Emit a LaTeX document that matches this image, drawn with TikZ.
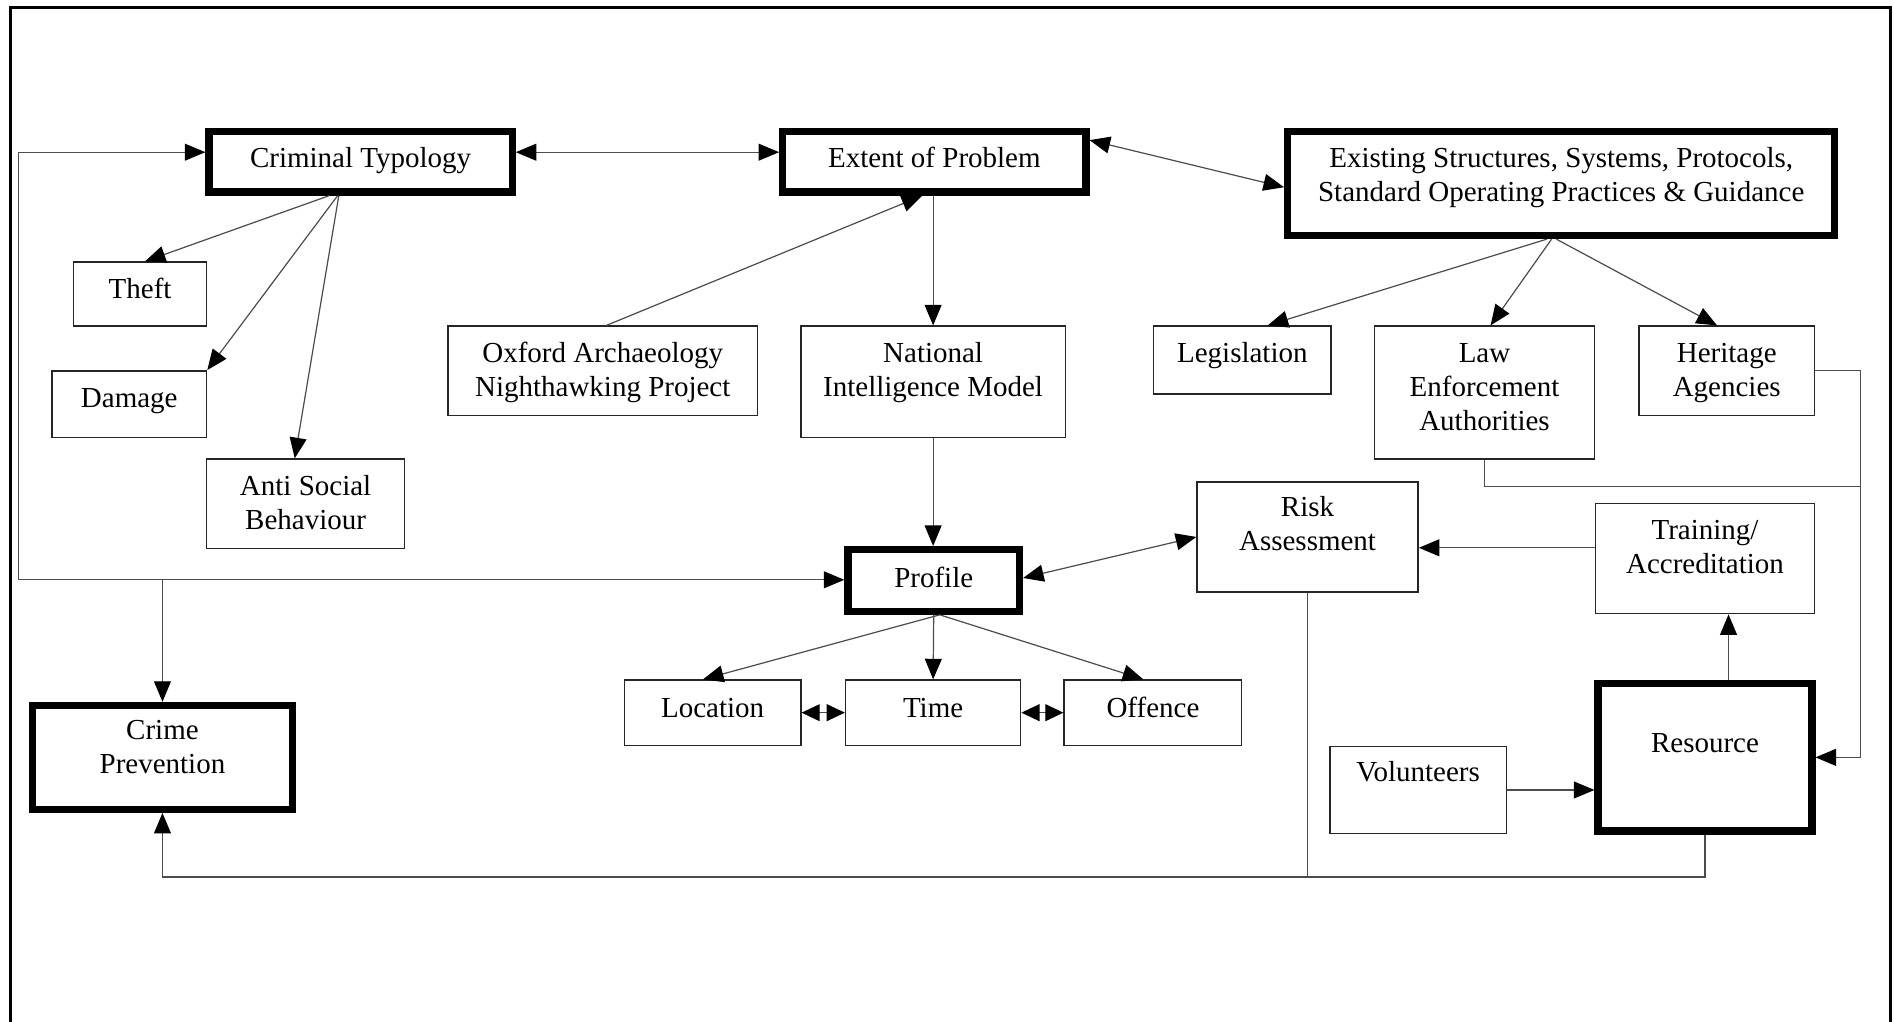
\documentclass[tikz,border=0pt]{standalone}
\usepackage{fontspec}
\setmainfont{Liberation Serif}
\usetikzlibrary{arrows.meta,calc}
\newcommand\mkbox[8][]{%
  \pgfmathsetmacro\mybw{#5-#3}\pgfmathsetmacro\mybh{#6-#4}%
  \node[box,#1] (#2) at ({(#3+#5)/2},{(#4+#6)/2})
    {\parbox[c][\mybh pt][t]{\mybw pt}{\centering\rule{0pt}{#7pt}#8}};%
}
\begin{document}
\begin{tikzpicture}[x=1pt,y=-1pt,
  box/.style={draw=black!85,line width=1.2pt,inner sep=0pt,rectangle,font=\fontsize{24}{28}\selectfont},
  heavy/.style={draw=black,line width=6pt},
  conn/.style={draw=black!70,line width=1pt},
  tip/.style={-{Triangle[length=17pt,width=14pt,color=black]}},
  dtip/.style={{Triangle[length=17pt,width=14pt,color=black]}-{Triangle[length=17pt,width=14pt,color=black]}},
  stip/.style={{Triangle[length=15pt,width=14pt,color=black]}-{Triangle[length=15pt,width=14pt,color=black]}},
]
\useasboundingbox (0,0) rectangle (1568,846);
\fill[white] (0,0) rectangle (1568,846);
\draw[line width=2.5pt,line join=miter] (8.5,846) -- (8.5,6) -- (1565,6) -- (1565,846);

% boxes
\mkbox[heavy]{ct}{173}{109}{424}{159}{30}{Criminal Typology}
\mkbox[heavy]{eop}{648}{109}{899}{159}{30}{Extent of Problem}
\mkbox[heavy]{exist}{1066}{109}{1519}{195}{30}{Existing Structures, Systems, Protocols,\\Standard Operating Practices \& Guidance}
\mkbox{theft}{61}{217}{171}{270}{30}{Theft}
\mkbox{damage}{43}{307}{171}{362}{30}{Damage}
\mkbox{asb}{171}{380}{335}{454}{30}{Anti Social\\Behaviour}
\mkbox{oxford}{371}{270}{627}{344}{30}{Oxford Archaeology\\Nighthawking Project}
\mkbox{nim}{663}{270}{882}{362}{30}{National\\Intelligence Model}
\mkbox{legis}{955}{270}{1102}{326}{30}{Legislation}
\mkbox{lea}{1138}{270}{1320}{380}{30}{Law\\Enforcement\\Authorities}
\mkbox{herit}{1357}{270}{1502}{344}{30}{Heritage\\Agencies}
\mkbox{risk}{991}{399}{1174}{490}{29}{Risk\\Assessment}
\mkbox{train}{1321}{417}{1502}{508}{30}{Training/\\Accreditation}
\mkbox[heavy]{profile}{702}{455}{844}{506}{31}{Profile}
\mkbox{loc}{517}{563}{663}{617}{31}{Location}
\mkbox{time}{700}{563}{845}{617}{31}{Time}
\mkbox{off}{881}{563}{1028}{617}{31}{Offence}
\mkbox[heavy]{cp}{27}{584}{242}{670}{28}{Crime\\Prevention}
\mkbox{vol}{1101}{618}{1247}{690}{29}{Volunteers}
\mkbox[heavy]{res}{1323}{566}{1500}{688}{57}{Resource}

% connectors
\draw[conn,dtip] ($(ct.east)+(0,-8)$) -- ($(eop.west)+(0,-8)$);
\coordinate (lt) at (15,126);
\coordinate (lb) at (15,480);
\draw[conn,tip] (lt) -- ($(ct.west)+(0,-8)$);
\draw[conn,tip] (lt) -- (lb) -- (lb -| profile.west);
\draw[conn,tip] (cp.north |- lb) -- (cp.north);

\draw[conn,tip] ($(ct.south)+(-26,0)$) -- ($(theft.north)+(4,0)$);
\draw[conn,tip] ($(ct.south)+(-19,0)$) -- (damage.north east);
\draw[conn,tip] ($(ct.south)+(-18,0)$) -- ($(asb.north)+(-9,0)$);

\draw[conn,tip] ($(oxford.north)+(3,0)$) -- ($(eop.south)+(-10,0)$);
\draw[conn,tip] (nim.north |- eop.south) -- (nim.north);
\draw[conn,dtip] ($(eop.north east)+(0,10)$) -- ($(exist.west)+(0,3)$);

\draw[conn,tip] ($(exist.south)+(-12,0)$) -- ($(legis.north)+(21,0)$);
\draw[conn,tip] ($(exist.south)+(-8,0)$) -- ($(lea.north)+(5,0)$);
\draw[conn,tip] ($(exist.south)+(-4,0)$) -- ($(herit.north)+(-8,0)$);

\coordinate (hr) at (1540,307);
\coordinate (lj) at (1540,403);
\draw[conn,tip] (herit.east) -- (hr) -- (hr |- res.east) -- (res.east);
\draw[conn] (lea.south) |- (lj);

\draw[conn,tip] (nim.south) -- (nim.south |- profile.north);
\draw[conn,dtip] ($(profile.east)+(0,-2)$) -- (risk.west);
\coordinate (tw) at ($(train.west)+(0,-9)$);
\draw[conn,tip] (tw) -- (tw -| risk.east);
\draw[conn,tip] ($(res.north)+(19.5,0)$) -- ($(train.south)+(19.5,0)$);
\draw[conn,tip] (vol.east) -- (vol.east -| res.west);

\coordinate (bus) at (0,726);
\draw[conn,tip] (res.south) |- (cp.south |- bus) -- (cp.south);
\draw[conn] (risk.south) -- (risk.south |- bus);

\draw[conn,tip] ($(profile.south)+(5,0)$) -- ($(loc.north)+(-8,0)$);
\draw[conn,tip] (profile.south) -- (time.north);
\draw[conn,tip] ($(profile.south)+(5,0)$) -- ($(off.north)+(-8,0)$);
\draw[conn,stip] (loc.east) -- (time.west);
\draw[conn,stip] (time.east) -- (off.west);
\end{tikzpicture}
\end{document}
